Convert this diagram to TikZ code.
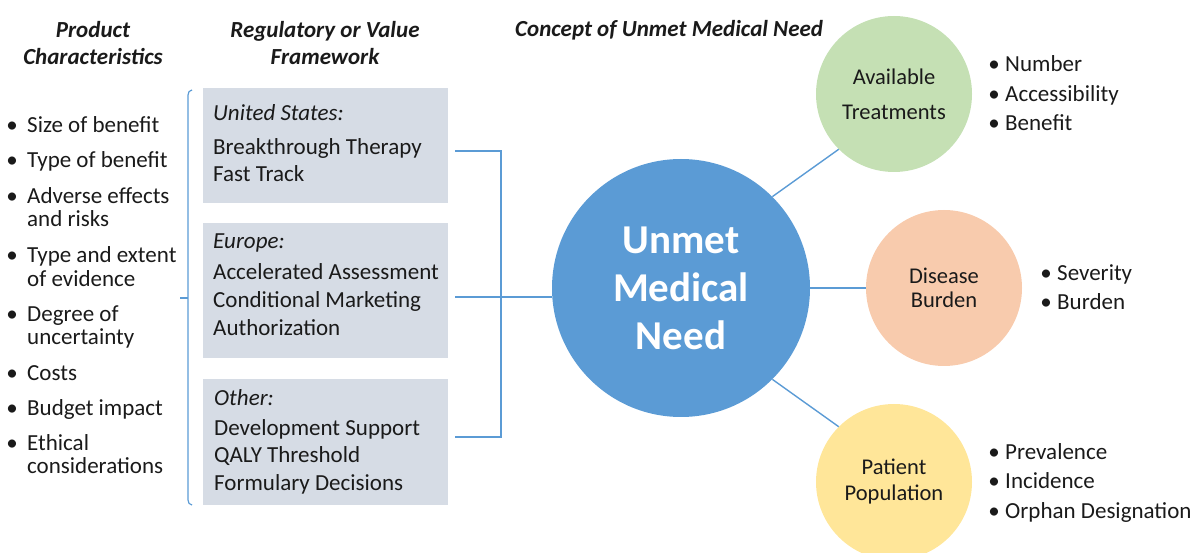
\documentclass[tikz,border=0pt]{standalone}
\usepackage{fontspec}
\setmainfont{Carlito}
\definecolor{umblue}{HTML}{5B9BD5}
\definecolor{lineblue}{HTML}{5B9BD5}
\definecolor{boxfill}{HTML}{D6DCE5}
\definecolor{avgreen}{HTML}{C5E0B4}
\definecolor{dborange}{HTML}{F8CBAD}
\definecolor{ppyellow}{HTML}{FFE699}
\definecolor{ink}{HTML}{1A1A1A}
\begin{document}
\begin{tikzpicture}[x=1pt,y=-1pt,
  txt/.style={inner sep=0pt, anchor=mid west, yshift=-5pt, text=ink, font=\fontsize{23}{27}\selectfont},
  itxt/.style={txt, font=\fontsize{23}{27}\selectfont\itshape},
  bul/.style={inner sep=0pt, anchor=mid, yshift=-5pt, text=ink, font=\fontsize{23}{27}\selectfont},
  head/.style={inner sep=0pt, align=center, text=ink, font=\fontsize{23}{27}\selectfont\bfseries\itshape},
  regbox/.style={rectangle, fill=boxfill, draw=none, minimum width=245, inner sep=0pt},
  conn/.style={draw=lineblue, line width=1.4pt},
  bubble/.style={circle, minimum size=156, inner sep=0pt, align=center, text=ink},
]
\useasboundingbox (0,0) rectangle (1195,553);

% headers
\node[head] (h1) at (93,43) {Product\\Characteristics};
\node[head] (h2) at (325,43) {Regulatory or Value\\Framework};
\node[head, anchor=mid west, yshift=-5pt] (h3) at (515,29) {Concept of Unmet Medical Need};

% left list
\foreach \y/\t [count=\i] in {125/Size of benefit,160/Type of benefit,196/Adverse effects,255/Type and extent,314/Degree of,373/Costs,408/Budget impact,443/Ethical}{
  \node[bul] (lb\i) at (12,\y) {•};
  \node[txt] (lt\i) at (27,\y) {\t};
}
\node[txt] (lc1) at (27,219) {and risks};
\node[txt] (lc2) at (27,279) {of evidence};
\node[txt] (lc3) at (27,337) {uncertainty};
\node[txt] (lc4) at (27,466) {considerations};

% brace
\draw[conn, line width=1.2pt] (192,90) to[out=180,in=90] (188,95) -- (188,500) to[out=-90,in=180] (192,505);
\draw[conn, line width=1.2pt] (188,298) -- (180,298);

% boxes
\node[regbox, minimum height=115] (us) at (325.5,145.5) {};
\node[regbox, minimum height=135] (eu) at (325.5,290.5) {};
\node[regbox, minimum height=126] (oth) at (325.5,442) {};

\node[itxt] (us0) at (213,113) {United States:};
\node[txt] (us1) at (213,147) {Breakthrough Therapy};
\node[txt] (us2) at (213,174) {Fast Track};

\node[itxt] (eu0) at (213,241) {Europe:};
\node[txt] (eu1) at (213,272) {Accelerated Assessment};
\node[txt] (eu2) at (213,300) {Conditional Marketing};
\node[txt] (eu3) at (213,328) {Authorization};

\node[itxt] (ot0) at (214,398) {Other:};
\node[txt] (ot1) at (214,428) {Development Support};
\node[txt] (ot2) at (214,455) {QALY Threshold};
\node[txt] (ot3) at (214,483) {Formulary Decisions};

% central circle
\node[circle, fill=umblue, minimum size=258, inner sep=0pt, align=center, text=white,
      font=\fontsize{41}{48}\selectfont\bfseries] (unmet) at (681,288) {Unmet\\Medical\\Need};

% box connectors
\coordinate (usout) at (455,151);
\coordinate (euout) at (455,297);
\coordinate (othout) at (455,437);
\coordinate (j) at (501,297);
\draw[conn] (usout) -| (j) |- (othout);
\draw[conn] (euout) -- (euout -| unmet.west);

% bubbles
\node[bubble, fill=avgreen, font=\fontsize{22.5}{35}\selectfont] (avail) at (894,94) {Available\\Treatments};
\node[bubble, fill=dborange, font=\fontsize{22.5}{24}\selectfont] (burden) at (944,288) {Disease\\Burden};
\node[bubble, fill=ppyellow, font=\fontsize{22.5}{26}\selectfont] (pop) at (894,482) {Patient\\Population};

\draw[conn] (unmet.45) -- (avail.225);
\draw[conn] (unmet.east) -- (burden.west);
\draw[conn] (unmet.-45) -- (pop.135);

% right lists
\foreach \y/\t [count=\i] in {64/Number,94/Accessibility,123/Benefit}{
  \node[bul] (ab\i) at (994,\y) {•};
  \node[txt] (at\i) at (1005,\y) {\t};
}
\foreach \y/\t [count=\i] in {273/Severity,302/Burden}{
  \node[bul] (db\i) at (1046,\y) {•};
  \node[txt] (dt\i) at (1057,\y) {\t};
}
\foreach \y/\t [count=\i] in {452/Prevalence,481/Incidence,511/Orphan Designation}{
  \node[bul] (pb\i) at (994,\y) {•};
  \node[txt] (pt\i) at (1005,\y) {\t};
}
\end{tikzpicture}
\end{document}
